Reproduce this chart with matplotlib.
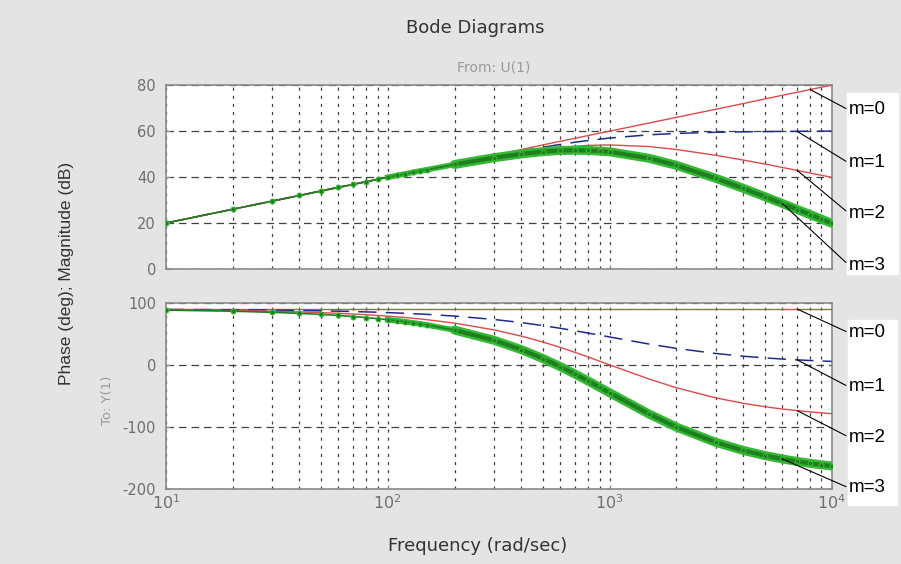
import matplotlib
matplotlib.use("Agg")
import numpy as np
import matplotlib.pyplot as plt
from matplotlib.patches import Rectangle

plt.rcParams["font.family"] = ["DejaVu Sans"]
plt.rcParams["axes.unicode_minus"] = False

# frequency points (rad/sec)
freq = [10, 20, 30, 40, 50, 60, 70, 80, 90, 100, 110, 120, 130, 140, 150, 200,
        300, 400, 500, 600, 700, 800, 900, 1000, 1500, 2000, 3000, 4000, 5000,
        6000, 7000, 8000, 9000, 10000]

# magnitude (dB)
mag_m0 = [20.0, 26.0, 29.5, 32.0, 34.0, 35.6, 36.9, 38.1, 39.1, 40.0, 40.8, 41.6, 42.3, 42.9, 43.5, 46.0,
          49.5, 52.0, 54.0, 55.6, 56.9, 58.1, 59.1, 60.0, 63.5, 66.0, 69.5, 72.0, 74.0,
          75.6, 76.9, 78.1, 79.1, 80.0]
mag_m1 = [20.0, 26.0, 29.5, 32.0, 34.0, 35.6, 36.9, 38.0, 39.0, 40.0, 40.8, 41.5, 42.2, 42.8, 43.4, 45.8,
          49.2, 51.4, 53.0, 54.2, 55.2, 55.9, 56.5, 57.0, 58.4, 59.0, 59.5, 59.7, 59.8,
          59.9, 59.9, 60.0, 60.0, 60.0]
mag_m2 = [20.0, 26.0, 29.5, 32.0, 34.0, 35.5, 36.9, 38.0, 39.0, 39.9, 40.7, 41.5, 42.1, 42.8, 43.3, 45.7,
          48.8, 50.7, 52.0, 52.9, 53.4, 53.8, 53.9, 54.0, 53.3, 52.0, 49.5, 47.4, 45.7,
          44.2, 42.9, 41.8, 40.8, 39.9]
mag_m3 = [20.0, 26.0, 29.5, 32.0, 33.9, 35.5, 36.8, 38.0, 39.0, 39.9, 40.7, 41.4, 42.1, 42.7, 43.2, 45.5,
          48.4, 50.1, 51.1, 51.6, 51.7, 51.6, 51.3, 51.0, 48.2, 45.1, 39.5, 35.1, 31.5,
          28.5, 25.9, 23.7, 21.7, 19.9]

# phase (deg)
ph_m0 = [90.0] * len(freq)
ph_m1 = [89.4, 88.9, 88.3, 87.7, 87.1, 86.6, 86.0, 85.4, 84.9, 84.3, 83.7, 83.2, 82.6, 82.0, 81.5, 78.7,
         73.3, 68.2, 63.4, 59.0, 55.0, 51.3, 48.0, 45.0, 33.7, 26.6, 18.4, 14.0, 11.3,
         9.5, 8.1, 7.1, 6.3, 5.7]
ph_m2 = [88.9, 87.7, 86.6, 85.4, 84.3, 83.1, 82.0, 80.9, 79.7, 78.6, 77.4, 76.3, 75.2, 74.1, 72.9, 67.4,
         56.6, 46.4, 36.9, 28.1, 20.0, 12.7, 6.0, 0.0, -22.6, -36.9, -53.1, -61.9, -67.4,
         -71.1, -73.7, -75.7, -77.3, -78.6]
ph_m3 = [88.3, 86.6, 84.8, 83.1, 81.4, 79.7, 78.0, 76.3, 74.6, 72.9, 71.2, 69.5, 67.8, 66.1, 64.4, 56.1,
         39.9, 24.6, 10.3, -2.9, -15.0, -26.0, -36.0, -45.0, -78.9, -100.3, -124.7, -137.9, -146.1,
         -151.6, -155.6, -158.6, -161.0, -162.9]

labels = ["m=0", "m=1", "m=2", "m=3"]

RED = "#dd4a4a"
BLUE = "#1c2c8c"
GREEN = "#35b835"
DKGREEN = "#1e7f1e"
GRAY = "#6e6e6e"

fig = plt.figure(figsize=(9.01, 5.64), dpi=100, facecolor="#e4e4e4")

# white strip behind the curve labels
fig.patches.append(Rectangle((847 / 901, 1 - 274 / 564), 51 / 901, 181 / 564,
                             transform=fig.transFigure, color="white", zorder=-1))
fig.patches.append(Rectangle((848 / 901, 1 - 505 / 564), 49 / 901, 185 / 564,
                             transform=fig.transFigure, color="white", zorder=-1))

ax1 = fig.add_axes([0.184, 0.523, 0.739, 0.326])
ax2 = fig.add_axes([0.184, 0.133, 0.739, 0.330])

f = np.array(freq)
mid = f >= 100
thick = f >= 200


def draw(ax, c0, c1, c2, c3):
    ax.plot(freq, c0, color=RED, lw=1.0, zorder=3)
    ax.plot(freq, c1, color=BLUE, lw=1.1, dashes=(12, 6), zorder=3)
    ax.plot(freq, c2, color=RED, lw=1.0, zorder=3)
    c3 = np.array(c3)
    ax.plot(f[mid], c3[mid], color=GREEN, lw=4.0, zorder=4)
    ax.plot(f[thick], c3[thick], color=GREEN, lw=6.5, zorder=4, solid_capstyle="round")
    ax.plot(f[thick], c3[thick], color=DKGREEN, lw=3.0, zorder=4)
    ax.plot(freq, c3, color=DKGREEN, lw=1.2, marker="o", ms=3.5, mfc=DKGREEN,
            mec=GREEN, mew=0.8, zorder=4)
    ax.set_xscale("log")
    ax.set_xlim(10, 10000)
    ax.set_facecolor("white")
    # grid on every decade and minor tick
    ax.grid(True, which="major", axis="y", color="#404040", lw=0.9, ls=(0, (6, 4)))
    ax.grid(True, which="both", axis="x", color="#404040", lw=0.9, ls=(0, (2.5, 4)))
    for s in ax.spines.values():
        s.set_color("#8a8a8a")
        s.set_linewidth(1.2)
    ax.tick_params(which="both", direction="in", colors="#8a8a8a", labelcolor=GRAY,
                   labelsize=10.5, length=3, pad=7)
    ax.tick_params(which="minor", length=0)


draw(ax1, mag_m0, mag_m1, mag_m2, mag_m3)
ax1.set_ylim(0, 80)
ax1.set_yticks([0, 20, 40, 60, 80])
ax1.tick_params(axis="x", which="both", labelbottom=False)

draw(ax2, ph_m0, ph_m1, ph_m2, ph_m3)
ax2.set_ylim(-200, 100)
ax2.set_yticks([-200, -100, 0, 100])
ax2.set_xticks([10, 100, 1000, 10000])
ax2.set_xticklabels([r"$10^1$", r"$10^2$", r"$10^3$", r"$10^4$"])
ax2.tick_params(axis="x", labelsize=11.5, pad=3)

# curve labels with leader lines
mag_curves = [mag_m0, mag_m1, mag_m2, mag_m3]
ph_curves = [ph_m0, ph_m1, ph_m2, ph_m3]
mag_idx = [freq.index(8000), freq.index(7000), freq.index(7000), freq.index(6000)]
ph_idx = [freq.index(7000), freq.index(7000), freq.index(7000), freq.index(6000)]
mag_ty = [0.805, 0.711, 0.622, 0.530]
ph_ty = [0.410, 0.314, 0.225, 0.135]
for ax, curves, idx, ty in [(ax1, mag_curves, mag_idx, mag_ty), (ax2, ph_curves, ph_idx, ph_ty)]:
    for i in range(4):
        ax.annotate(labels[i], xy=(freq[idx[i]], curves[i][idx[i]]),
                    xytext=(0.942, ty[i]), textcoords="figure fraction",
                    va="center", ha="left", fontsize=13.5, color="black",
                    family="Liberation Sans",
                    arrowprops=dict(arrowstyle="-", color="black", lw=0.8,
                                    relpos=(0, 0.5), shrinkA=0, shrinkB=0),
                    annotation_clip=False, zorder=6)

fig.text(0.528, 0.951, "Bode Diagrams", ha="center", va="center", fontsize=13, color="#333333")
fig.text(0.548, 0.881, "From: U(1)", ha="center", va="center", fontsize=10, color="#9a9a9a")
fig.text(0.074, 0.515, "Phase (deg); Magnitude (dB)", rotation=90, ha="center", va="center",
         fontsize=12.5, color="#333333", family="Liberation Sans")
fig.text(0.119, 0.29, "To: Y(1)", rotation=90, ha="center", va="center", fontsize=9.5,
         color="#9a9a9a")
fig.text(0.53, 0.032, "Frequency (rad/sec)", ha="center", va="center", fontsize=13,
         color="#333333")

fig.savefig("out.png", dpi=100, facecolor=fig.get_facecolor())
